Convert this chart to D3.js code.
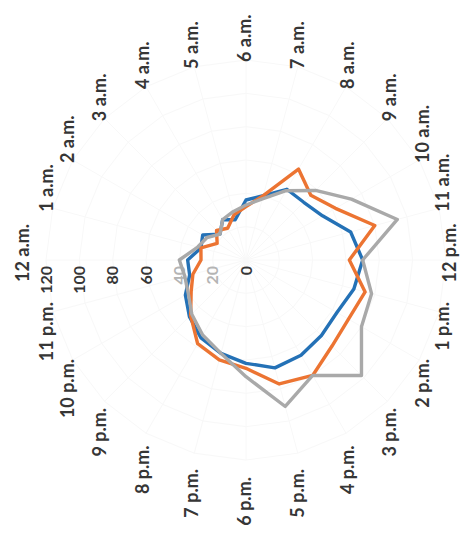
<!DOCTYPE html>
<html>
<head>
<meta charset="utf-8">
<script src="https://cdn.jsdelivr.net/npm/d3@7"></script>
<style>
  html, body { margin: 0; padding: 0; background: #ffffff; }
  svg { display: block; }
</style>
</head>
<body>
<svg id="chart" width="474" height="541"></svg>
<script>
// Hour-of-day categories, clockwise from the top spoke
const hours = ["12 a.m.", "1 a.m.", "2 a.m.", "3 a.m.", "4 a.m.", "5 a.m.", "6 a.m.",
  "7 a.m.", "8 a.m.", "9 a.m.", "10 a.m.", "11 a.m.", "12 p.m.", "1 p.m.", "2 p.m.",
  "3 p.m.", "4 p.m.", "5 p.m.", "6 p.m.", "7 p.m.", "8 p.m.", "9 p.m.", "10 p.m.", "11 p.m."];

// Values per hour for each series
const seriesBlue   = [35, 28, 30, 22, 28, 25, 36, 40, 49, 49, 53, 65, 70, 67, 63, 64, 66, 67, 62, 58, 54, 48, 42, 35];
const seriesOrange = [27, 28, 20, 25, 22, 28, 32, 40, 63, 55, 62, 80, 62, 74, 71, 73, 80, 77, 65, 62, 58, 47, 38, 33];
const seriesGray   = [40, 30, 27, 22, 28, 30, 33, 38, 48, 59, 73, 94, 70, 78, 80, 98, 80, 91, 70, 58, 52, 46, 40, 38];

// Value axis ticks
const valueTicks = [0, 20, 40, 60, 80, 100, 120];
const fadedTicks = [20, 40];

const seriesColors = ["#2471b6", "#ec7432", "#a9a9a9"];
const textColor = "#363636";
const fontFamily = "Lato, 'Open Sans', sans-serif";

const svg = d3.select("#chart");

// The radar is laid out in a 541 x 474 frame, then turned a quarter turn counter-clockwise.
const frameW = 541;
const root = svg.append("g").attr("transform", `translate(0,${frameW}) rotate(-90)`);

const cx = 281, cy = 246, R = 200;
const r = d3.scaleLinear().domain([0, 120]).range([0, R]);
const angle = d3.scaleLinear().domain([0, hours.length]).range([0, 2 * Math.PI]);

const plot = root.append("g").attr("transform", `translate(${cx},${cy})`);

// faint gridlines
const gridLine = d3.lineRadial()
  .angle((d, i) => angle(i))
  .radius(d => r(d))
  .curve(d3.curveLinearClosed);

plot.append("g").selectAll("path")
  .data(valueTicks.filter(v => v > 0))
  .join("path")
  .attr("d", v => gridLine(hours.map(() => v)))
  .attr("fill", "none")
  .attr("stroke", "#f8f8f8")
  .attr("stroke-width", 1);

plot.append("g").selectAll("line")
  .data(hours)
  .join("line")
  .attr("x1", 0).attr("y1", 0)
  .attr("x2", (d, i) => r(120) * Math.sin(angle(i)))
  .attr("y2", (d, i) => -r(120) * Math.cos(angle(i)))
  .attr("stroke", "#f8f8f8")
  .attr("stroke-width", 1);

// value axis labels, left of the top spoke
plot.append("g").selectAll("text")
  .data(valueTicks)
  .join("text")
  .attr("x", -6)
  .attr("y", v => -r(v))
  .attr("dy", "0.35em")
  .attr("text-anchor", "end")
  .attr("font-family", fontFamily)
  .attr("font-weight", 700)
  .attr("font-size", 16)
  .attr("fill", v => fadedTicks.includes(v) ? "#b4b4b4" : textColor)
  .text(d => d);

// series outlines
const seriesLine = d3.lineRadial()
  .angle((d, i) => angle(i))
  .radius(d => r(d))
  .curve(d3.curveLinearClosed);

plot.append("g").selectAll("path")
  .data([seriesBlue, seriesOrange, seriesGray])
  .join("path")
  .attr("d", d => seriesLine(d))
  .attr("fill", "none")
  .attr("stroke", (d, i) => seriesColors[i])
  .attr("stroke-width", 3.4)
  .attr("stroke-linejoin", "round");

// category labels around the ring (offsets relative to the plot centre):
// right-hand labels start on their spoke, left-hand labels end on it,
// top and bottom labels are centred across the spoke
const labelSize = 18;
const labelRY = 205, labelOffY = -1;           // vertical placement of side labels
const rightR = 202, rightOffX = -4;            // start of right-hand labels
const leftR = 236, leftOffX = 19;              // end of left-hand labels
const topOffY = -223, bottomOffY = 204, poleOffX = 7;

plot.append("g").selectAll("text")
  .data(hours)
  .join("text")
  .attr("font-family", fontFamily)
  .attr("font-weight", 700)
  .attr("font-size", labelSize)
  .attr("fill", textColor)
  .attr("dy", "0.35em")
  .text(d => d)
  .each(function (d, i) {
    const a = angle(i);
    const s = Math.sin(a), c = Math.cos(a);
    const sel = d3.select(this);
    if (Math.abs(s) < 0.05) {
      sel.attr("text-anchor", "middle")
        .attr("x", poleOffX)
        .attr("y", c > 0 ? topOffY : bottomOffY);
    } else if (s > 0) {
      sel.attr("text-anchor", "start")
        .attr("x", rightOffX + rightR * s)
        .attr("y", labelOffY - labelRY * c);
    } else {
      sel.attr("text-anchor", "end")
        .attr("x", leftOffX + leftR * s)
        .attr("y", labelOffY - labelRY * c);
    }
  });
</script>
</body>
</html>
